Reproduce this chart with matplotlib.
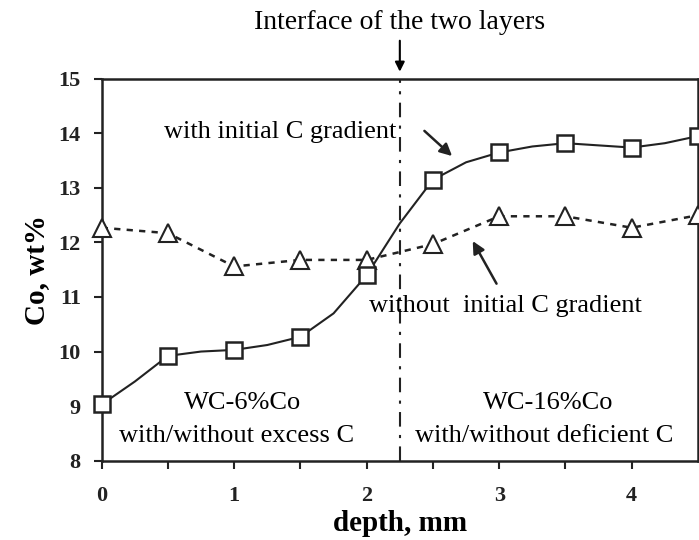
import matplotlib.pyplot as plt

# Datos
depth = [0, 0.5, 1.0, 1.5, 2.0, 2.5, 3.0, 3.5, 4.0, 4.5]
co_with_grad = [9.03, 9.92, 10.03, 10.27, 11.40, 13.15, 13.65, 13.82, 13.74, 13.95]
co_without_grad = [12.27, 12.17, 11.56, 11.68, 11.68, 11.97, 12.48, 12.48, 12.27, 12.50]

# Curva suavizada dibujada en la figura (valores leídos)
curve_depth = [0, 0.25, 0.5, 0.75, 1.0, 1.25, 1.5, 1.75, 2.0, 2.25, 2.5, 2.75, 3.0, 3.25, 3.5, 3.75, 4.0, 4.25, 4.5]
curve_co = [9.03, 9.45, 9.92, 10.0, 10.03, 10.12, 10.27, 10.70, 11.40, 12.35, 13.15, 13.47, 13.65, 13.76, 13.82, 13.78, 13.74, 13.82, 13.95]

interface_x = 2.25

plt.rcParams['font.family'] = ['Liberation Serif', 'DejaVu Serif']

fig = plt.figure(figsize=(6.99, 5.40), dpi=100)
ax = fig.add_axes([0.1455, 0.147, 0.853, 0.707])

# Curva con gradiente inicial de C
ax.plot(curve_depth, curve_co, color='#222222', lw=1.5, zorder=2)
ax.plot(depth, co_with_grad, linestyle='none', marker='s', ms=11.5,
        mfc='white', mec='#222222', mew=1.8, zorder=4, clip_on=False)

# Curva sin gradiente inicial de C
ax.plot(depth, co_without_grad, color='#222222', lw=1.8, linestyle=(0, (2.5, 2.5)),
        marker='^', ms=13, mfc='white', mec='#222222', mew=1.5, zorder=3, clip_on=False)

# Interfaz de las dos capas
ax.axvline(interface_x, color='#222222', lw=1.5, linestyle=(0, (7, 4, 1.5, 4)), zorder=1)
ax.annotate('', xy=(interface_x, 15.08), xytext=(interface_x, 15.75),
            arrowprops=dict(arrowstyle='-|>', color='black', lw=1.5, mutation_scale=14),
            annotation_clip=False)
ax.text(interface_x, 16.04, 'Interface of the two layers', ha='center', va='center',
        fontsize=20, clip_on=False)

# Anotaciones
ax.text(1.35, 14.03, 'with initial C gradient', ha='center', va='center', fontsize=19)
ax.annotate('', xy=(2.66, 13.55), xytext=(2.42, 14.08),
            arrowprops=dict(arrowstyle='-|>', color='#222222', lw=1.8, mutation_scale=18))
ax.text(3.05, 10.84, 'without  initial C gradient', ha='center', va='center', fontsize=19)
ax.annotate('', xy=(2.79, 12.07), xytext=(2.99, 11.2),
            arrowprops=dict(arrowstyle='-|>', color='#222222', lw=1.8, mutation_scale=18))

ax.text(1.06, 9.05, 'WC-6%Co', ha='center', va='center', fontsize=19)
ax.text(1.02, 8.45, 'with/without excess C', ha='center', va='center', fontsize=19)
ax.text(3.37, 9.05, 'WC-16%Co', ha='center', va='center', fontsize=19)
ax.text(3.34, 8.45, 'with/without deficient C', ha='center', va='center', fontsize=19)

# Ejes
ax.set_xlim(0, 4.5)
ax.set_ylim(8, 15)
ax.set_xticks([0, 1, 2, 3, 4])
ax.set_xticks([0.5, 1.5, 2.5, 3.5], minor=True)
ax.set_yticks(range(8, 16))
ax.tick_params(axis='both', which='both', direction='out', length=6, width=1.5,
               labelsize=16, colors='#222222')
ax.tick_params(axis='x', pad=12)
ax.tick_params(axis='y', pad=9)
for lab in ax.get_xticklabels() + ax.get_yticklabels():
    lab.set_fontweight('bold')
for side in ['left', 'bottom', 'top', 'right']:
    ax.spines[side].set_linewidth(1.8)
    ax.spines[side].set_color('#222222')

ax.set_xlabel('depth, mm', fontsize=21, fontweight='bold', labelpad=3)
ax.set_ylabel('Co, wt%', fontsize=21, fontweight='bold', labelpad=6)

fig.savefig('out.png', dpi=100)
